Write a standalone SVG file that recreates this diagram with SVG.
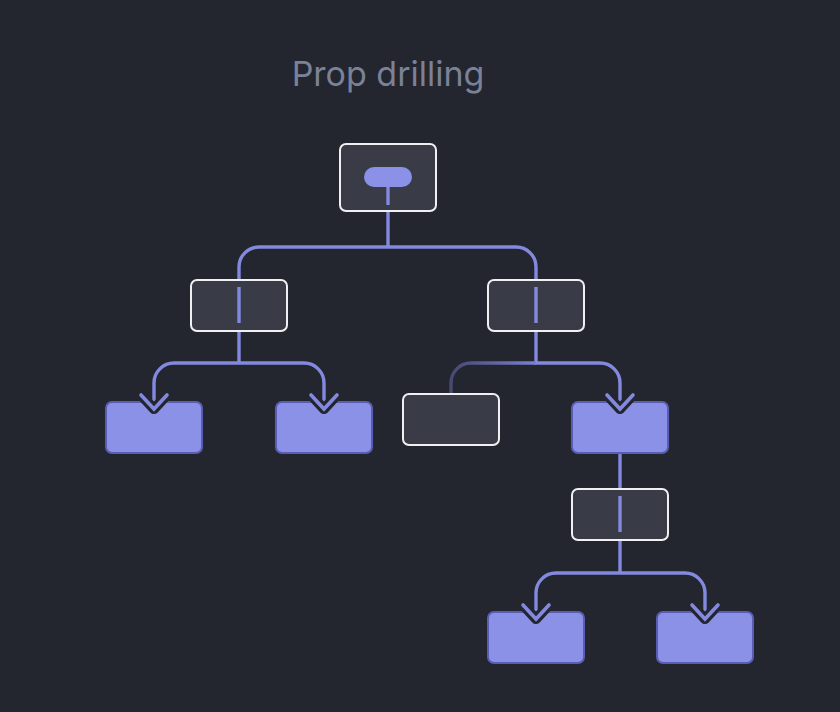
<svg xmlns="http://www.w3.org/2000/svg" width="840" height="712" viewBox="0 0 840 712">
  <defs>
    <style>
      .bg { fill: #23262e; }
      .title { font-family: Inter, "Noto Sans", "Liberation Sans", sans-serif; font-size: 34px; fill: #7b8197; }
      .box { fill: #393c47; stroke: #f0f0f2; stroke-width: 2; }
      .leaf { fill: #8c91e8; stroke: #5a5eb2; stroke-width: 2; }
      .wire { fill: none; stroke: #8489e0; stroke-width: 3.4; }
      .halo { fill: none; stroke: #23262e; stroke-width: 10; stroke-linecap: round; stroke-linejoin: round; }
      .chev { fill: none; stroke: #8489e0; stroke-width: 3.6; stroke-linecap: round; stroke-linejoin: miter; }
    </style>
    <linearGradient id="fade" gradientUnits="userSpaceOnUse" x1="451" y1="0" x2="536" y2="0">
      <stop offset="0" stop-color="#464970"/>
      <stop offset="1" stop-color="#7a7fd2"/>
    </linearGradient>
  </defs>
  <rect class="bg" x="0" y="0" width="840" height="712"/>
  <text class="title" x="388" y="86" text-anchor="middle">Prop drilling</text>

  <g id="connectors">
    <path class="wire" d="M388 212 V247"/>
    <path class="wire" d="M239 280 V267 A20 20 0 0 1 259 247 H516 A20 20 0 0 1 536 267 V280"/>
    <path class="wire" d="M239 331 V363"/>
    <path class="wire" d="M154 409 V383 A20 20 0 0 1 174 363 H304 A20 20 0 0 1 324 383 V409"/>
    <path class="wire" d="M536 331 V363 H600 A20 20 0 0 1 620 383 V409"/>
    <path fill="none" stroke="url(#fade)" stroke-width="3.4" d="M451 394 V383 A20 20 0 0 1 471 363 H536"/>
    <path class="wire" d="M620 454 V489"/>
    <path class="wire" d="M620 540 V573"/>
    <path class="wire" d="M536 619 V593 A20 20 0 0 1 556 573 H685 A20 20 0 0 1 705 593 V619"/>
  </g>

  <g id="root">
    <rect class="box" x="340" y="144" width="96" height="67" rx="6"/>
    <rect x="364" y="167" width="48" height="20" rx="10" fill="#8c91e8"/>
    <path class="wire" d="M388 187 V205"/>
  </g>
  <g id="mid-left">
    <rect class="box" x="191" y="280" width="96" height="51" rx="6"/>
    <path class="wire" d="M239 287 V323"/>
  </g>
  <g id="mid-right">
    <rect class="box" x="488" y="280" width="96" height="51" rx="6"/>
    <path class="wire" d="M536 287 V323"/>
  </g>
  <g id="leaf-1">
    <rect class="leaf" x="106" y="402" width="96" height="51" rx="6"/>
    <path class="halo" d="M141 395 L154 409 L167 395"/>
    <path class="chev" d="M141 395 L154 409 L167 395"/>
  </g>
  <g id="leaf-2">
    <rect class="leaf" x="276" y="402" width="96" height="51" rx="6"/>
    <path class="halo" d="M311 395 L324 409 L337 395"/>
    <path class="chev" d="M311 395 L324 409 L337 395"/>
  </g>
  <g id="grey-node">
    <rect class="box" x="403" y="394" width="96" height="51" rx="6"/>
  </g>
  <g id="leaf-3">
    <rect class="leaf" x="572" y="402" width="96" height="51" rx="6"/>
    <path class="halo" d="M607 395 L620 409 L633 395"/>
    <path class="chev" d="M607 395 L620 409 L633 395"/>
  </g>
  <g id="mid-lower">
    <rect class="box" x="572" y="489" width="96" height="51" rx="6"/>
    <path class="wire" d="M620 496 V532"/>
  </g>
  <g id="leaf-4">
    <rect class="leaf" x="488" y="612" width="96" height="51" rx="6"/>
    <path class="halo" d="M523 605 L536 619 L549 605"/>
    <path class="chev" d="M523 605 L536 619 L549 605"/>
  </g>
  <g id="leaf-5">
    <rect class="leaf" x="657" y="612" width="96" height="51" rx="6"/>
    <path class="halo" d="M692 605 L705 619 L718 605"/>
    <path class="chev" d="M692 605 L705 619 L718 605"/>
  </g>
</svg>
